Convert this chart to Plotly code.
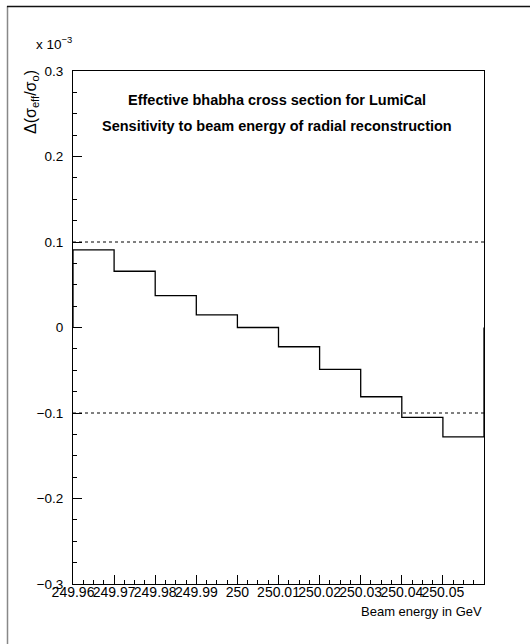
import plotly.graph_objects as go

# Data (units of 1e-3)
bin_low_edges = [249.96, 249.97, 249.98, 249.99, 250.00, 250.01, 250.02, 250.03, 250.04, 250.05]
bin_width = 0.01
delta_sigma = [0.0907, 0.0658, 0.0373, 0.0148, 0.0, -0.0225, -0.049, -0.081, -0.105, -0.128]
ref_levels = [0.1, -0.1]
x_tick_vals = [249.96, 249.97, 249.98, 249.99, 250.00, 250.01, 250.02, 250.03, 250.04, 250.05]
x_tick_text = ["249.96", "249.97", "249.98", "249.99", "250", "250.01", "250.02", "250.03", "250.04", "250.05"]
y_tick_vals = [-0.3, -0.2, -0.1, 0, 0.1, 0.2, 0.3]
y_tick_text = ["\u22120.3", "\u22120.2", "\u22120.1", "0", "0.1", "0.2", "0.3"]

W, H = 530, 644
L, R, T, B = 73, 46, 71, 60
pw, ph = W - L - R, H - T - B

x_hi = bin_low_edges[-1] + bin_width
xs = [bin_low_edges[0]] + bin_low_edges + [x_hi, x_hi]
ys = [0] + delta_sigma + [delta_sigma[-1], 0]

FONT = "Liberation Sans"

fig = go.Figure()
for lv in ref_levels:
    fig.add_trace(go.Scatter(x=[bin_low_edges[0], x_hi], y=[lv, lv], mode="lines",
                             line=dict(color="black", width=1, dash="3px,3px"),
                             hoverinfo="skip", showlegend=False))
fig.add_trace(go.Scatter(x=xs, y=ys, mode="lines", line_shape="hv",
                         line=dict(color="black", width=1.3), showlegend=False))

def px_x(p):
    return (p - L) / pw

def px_y(p):
    return 1 - (p - T) / ph

fig.update_layout(
    width=W, height=H,
    margin=dict(l=L, r=R, t=T, b=B),
    paper_bgcolor="white", plot_bgcolor="white",
    font=dict(family=FONT, color="black", size=13),
    xaxis=dict(range=[bin_low_edges[0], x_hi], tickmode="array", tickvals=x_tick_vals,
               ticktext=x_tick_text, ticks="inside", ticklen=9, tickcolor="black", tickwidth=1,
               tickangle=0,
               showgrid=False, zeroline=False, showline=True, linecolor="black", linewidth=1,
               mirror=True, tickfont=dict(size=14, family=FONT), ticklabelstandoff=-5,
               minor=dict(tickmode="linear", tick0=bin_low_edges[0], dtick=0.0025, ticklen=4,
                          ticks="inside", tickcolor="black", showgrid=False)),
    yaxis=dict(range=[-0.3, 0.3], tickmode="array", tickvals=y_tick_vals, ticktext=y_tick_text,
               ticks="inside", ticklen=9, tickcolor="black", tickwidth=1,
               showgrid=False, zeroline=False, showline=True, linecolor="black", linewidth=1,
               mirror=True, tickfont=dict(size=13.5, family=FONT), ticklabelstandoff=6,
               minor=dict(tickmode="linear", tick0=-0.3, dtick=0.025, ticklen=4,
                          ticks="inside", tickcolor="black", showgrid=False)),
    shapes=[
        dict(type="line", xref="paper", yref="paper", x0=px_x(7.5), x1=px_x(7.5), y0=px_y(6), y1=px_y(650),
             line=dict(color="#888888", width=1.5)),
        dict(type="line", xref="paper", yref="paper", x0=px_x(7), x1=px_x(535), y0=px_y(6.5), y1=px_y(6.5),
             line=dict(color="#111111", width=1.5)),
    ],
    annotations=[
        dict(text="<b>Effective bhabha cross section for LumiCal</b>", xref="paper", yref="paper",
             x=px_x(277), y=px_y(100), xanchor="center", yanchor="middle", showarrow=False,
             font=dict(size=14.5, family=FONT)),
        dict(text="<b>Sensitivity to beam energy of radial reconstruction</b>", xref="paper", yref="paper",
             x=px_x(277), y=px_y(126), xanchor="center", yanchor="middle", showarrow=False,
             font=dict(size=14.5, family=FONT)),
        dict(text="x 10<sup>\u22123</sup>", xref="paper", yref="paper", x=px_x(34), y=px_y(43),
             xanchor="left", yanchor="middle", showarrow=False, font=dict(size=13.5, family=FONT)),
        dict(text="\u0394(\u03c3<sub>eff</sub>/\u03c3<sub>o</sub>)", xref="paper", yref="paper",
             x=px_x(31), y=px_y(68), xanchor="center", yanchor="top", textangle=-90, showarrow=False,
             font=dict(size=16, family=FONT)),
        dict(text="Beam energy in GeV", xref="paper", yref="paper", x=px_x(484), y=px_y(611),
             xanchor="right", yanchor="middle", showarrow=False, font=dict(size=13, family=FONT)),
    ],
)

fig.write_html("out.html")
